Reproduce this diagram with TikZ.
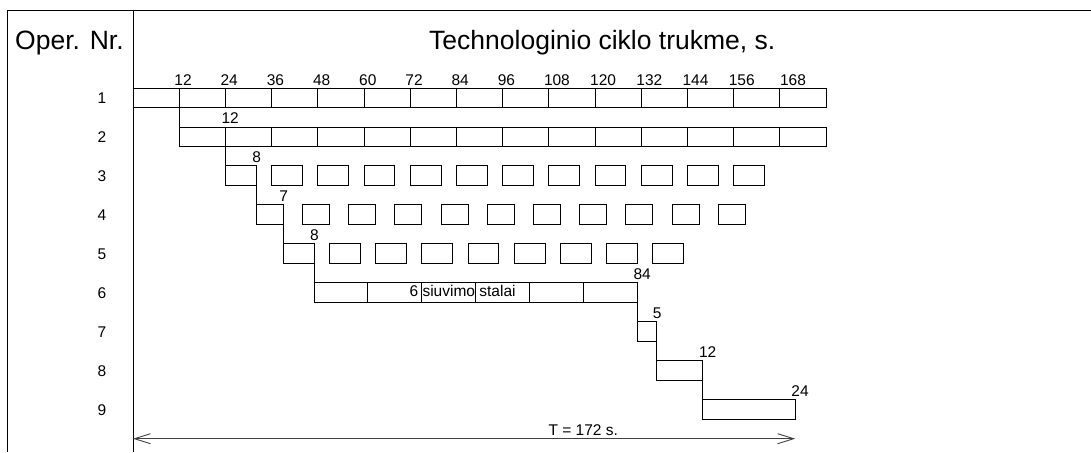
\documentclass[tikz,border=0pt]{standalone}
\usepackage{fontspec}
\setmainfont{Liberation Sans}
\usetikzlibrary{arrows.meta}

\begin{document}
\begin{tikzpicture}[
  x=1pt,y=-1pt,
  frame/.style={draw,line width=0.9pt},
  cell/.style={draw,line width=0.9pt},
  lbl/.style={font=\fontsize{15.5}{18}\selectfont,inner sep=0pt},
  head/.style={font=\fontsize{26.5}{30}\selectfont,inner sep=0pt},
  dur/.style={lbl,anchor=base west,xshift=-4pt,yshift=3.6pt},
  dim/.style={{Straight Barb[length=16pt,width=10pt]}-{Straight Barb[length=16pt,width=10pt]},line width=0.9pt,draw=black!75}
]
  \useasboundingbox (0,0) rectangle (1091,452);
  % frame and headings
  \draw[frame] (7.5,452) -- (7.5,10) -- (1091,10);
  \draw[frame] (133,10) -- (133,452);
  \node[head,anchor=base west] (oper) at (15,49) {Oper. Nr.};
  \node[head,anchor=base west] (title) at (429,49) {Technologinio ciklo trukme, s.};
  \foreach \i in {1,...,9}
    \node[lbl] (nr\i) at (102,{98.5+38.96*(\i-1)}) {\i};

  % time chart: x in seconds
  \begin{scope}[shift={(133,88)},x=3.85pt]
    \foreach \t in {12,24,...,156}
      \node[lbl,anchor=base west,xshift=-5pt,yshift=3pt] (tk\t) at (\t,0) {\t};
    \node[lbl,anchor=base west,yshift=3pt] (tk168) at (168,0) {168};
    % 1, 2
    \foreach \t in {0,12,...,168}
      \draw[cell] (\t,0) rectangle ++(12,19.3);
    \draw[cell] (12,19.3) -- (12,38.96);
    \foreach \t in {12,24,...,168}
      \draw[cell] (\t,38.96) rectangle ++(12,19.3);
    \node[dur] (d2) at (24,38.96) {12};
    % 3
    \draw[cell] (24,58.26) -- (24,77.92);
    \foreach \k in {0,...,11}
      \draw[cell] ({24+12*\k},77.92) rectangle ++(8,19.3);
    \node[dur] (d3) at (32,77.92) {8};
    % 4
    \draw[cell] (32,97.22) -- (32,116.88);
    \foreach \k in {0,...,10}
      \draw[cell] ({32+12*\k},116.88) rectangle ++(7,19.3);
    \node[dur] (d4) at (39,116.88) {7};
    % 5
    \draw[cell] (39,136.18) -- (39,155.84);
    \foreach \k in {0,...,8}
      \draw[cell] ({39+12*\k},155.84) rectangle ++(8,19.3);
    \node[dur] (d5) at (47,155.84) {8};
    % 6
    \draw[cell] (47,175.14) -- (47,194.8);
    \node[lbl,anchor=base west] (st6) at (71.8,208.7) {6 siuvimo stalai};
    \foreach \t in {47,61,...,117}
      \draw[cell] (\t,194.8) rectangle ++(14,19.3);
    \node[dur] (d6) at (131,194.8) {84};
    % 7
    \draw[cell] (131,214.1) -- (131,233.76);
    \draw[cell] (131,233.76) rectangle (136,253.06);
    \node[dur] (d7) at (136,233.76) {5};
    % 8
    \draw[cell] (136,253.06) -- (136,272.72);
    \draw[cell] (136,272.72) rectangle (148,292.02);
    \node[dur] (d8) at (148,272.72) {12};
    % 9
    \draw[cell] (148,292.02) -- (148,311.68);
    \draw[cell] (148,311.68) rectangle (172,330.98);
    \node[dur] (d9) at (172,311.68) {24};
    % total time
    \coordinate (tbeg) at (0,350.7);
    \coordinate (tend) at (172,350.7);
    \draw[dim] (tbeg) -- (tend);
    \node[lbl,anchor=base west] (tot) at (107.9,347) {T = 172 s.};
  \end{scope}
\end{tikzpicture}
\end{document}
